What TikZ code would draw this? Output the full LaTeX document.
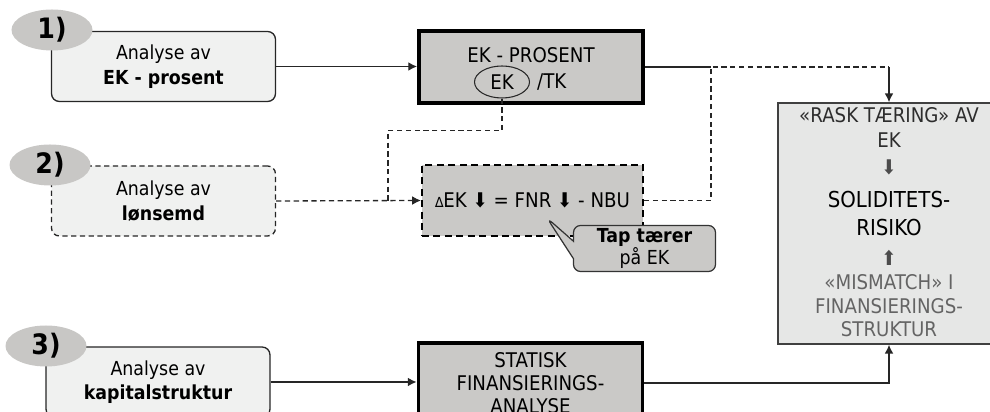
\documentclass[tikz,border=0pt]{standalone}
\usepackage{fontspec}
\setmainfont{DejaVu Sans}[FakeStretch=0.9]
\usetikzlibrary{shapes.geometric, shapes.callouts, arrows.meta, positioning, calc}
\definecolor{boxfill}{RGB}{240,241,240}
\definecolor{numfill}{RGB}{200,199,197}
\definecolor{keyfill}{RGB}{202,201,199}
\definecolor{riskfill}{RGB}{230,231,230}
\definecolor{riskdark}{RGB}{45,45,45}
\definecolor{riskgray}{RGB}{100,100,100}

\begin{document}
\begin{tikzpicture}[
    % Styles
    an node/.style={rectangle, draw=black!85, fill=boxfill, line width=0.75pt, align=center, font=\fontsize{11}{14}\selectfont, minimum width=4.48cm, minimum height=1.4cm, rounded corners=4.5pt},
    an dashed/.style={an node, dash pattern=on 3pt off 2pt},
    num node/.style={ellipse, fill=numfill, font=\fontsize{16}{18}\selectfont\bfseries, minimum width=1.62cm, minimum height=0.82cm, inner sep=0pt},
    key node/.style={rectangle, draw=black, fill=keyfill, line width=2.2pt, align=center, font=\fontsize{11.5}{13}\selectfont, minimum width=4.48cm, minimum height=1.44cm},
    delta node/.style={rectangle, draw=black, fill=keyfill, line width=1.2pt, dash pattern=on 4pt off 2.5pt, font=\fontsize{11.5}{14}\selectfont, minimum width=4.42cm, minimum height=1.42cm},
    tip node/.style={rectangle callout, draw=black!80, fill=keyfill, line width=0.7pt, rounded corners=4pt, align=center, font=\fontsize{11}{13}\selectfont, minimum width=2.84cm, minimum height=0.92cm, inner sep=1pt, callout pointer width=0.35cm},
    risk node/.style={rectangle, draw=black!75, fill=riskfill, line width=0.9pt, minimum width=4.44cm, minimum height=4.82cm},
    risk text/.style={align=center, font=\fontsize{11.5}{14}\selectfont, inner sep=0pt},
    line/.style={line width=0.75pt, draw=black!85},
    arrow/.style={-{Latex[length=5pt,width=5pt]}, line width=0.75pt, draw=black!85},
    dashed line/.style={line width=0.75pt, draw=black!85, dash pattern=on 3pt off 2pt},
    dashed arrow/.style={-{Latex[length=5pt,width=5pt]}, line width=0.75pt, draw=black!85, dash pattern=on 3pt off 2pt}
]
\useasboundingbox (0,0) rectangle (19.8,-8.24);
\clip (0,0) rectangle (19.8,-8.24);

% Analysis boxes (left)
\node[an node] (an1) at (3.27,-1.33) {Analyse av\\\textbf{EK - prosent}};
\node[an dashed] (an2) at (3.27,-4.02) {Analyse av\\\textbf{lønsemd}};
\node[an node] (an3) at (3.16,-7.64) {Analyse av\\\textbf{kapitalstruktur}};

\node[num node] (num1) at (1.04,-0.6) {1)};
\node[num node] (num2) at (1.0,-3.3) {2)};
\node[num node] (num3) at (0.92,-6.92) {3)};

% Key figure boxes (middle)
\node[key node] (ekp) at (10.62,-1.34) {};
\node[font=\fontsize{11.5}{13}\selectfont] (ektitle) at (10.62,-1.1) {EK - PROSENT};
\node[ellipse, draw=black!85, line width=0.6pt, font=\fontsize{11.5}{13}\selectfont, minimum width=1.1cm, minimum height=0.64cm, inner sep=0pt] (ekell) at (10.04,-1.64) {EK};
\node[font=\fontsize{11.5}{13}\selectfont, anchor=west] (tk) at (10.62,-1.64) {/TK};

\node[delta node] (delta) at (10.65,-4.01) {{\fontsize{8}{10}\selectfont ∆}EK ⬇ = FNR ⬇ - NBU};
\coordinate (tippt) at (10.94,-4.36);
\node[tip node, callout absolute pointer={(tippt)}] (tap) at (12.89,-4.97) {\textbf{Tap tærer}\\på EK};

\node[key node, minimum height=1.6cm] (stat) at (10.61,-7.66) {STATISK\\FINANSIERINGS-\\ANALYSE};

% Risk box (right)
\node[risk node] (risk) at (17.78,-4.47) {};
\node[risk text, text=riskdark] (risktop) at (17.78,-2.55) {«RASK TÆRING» AV\\EK};
\node[risk text, text=black!70] (riskdown) at (17.78,-3.34) {⬇};
\node[risk text, font=\fontsize{12.5}{16.4}\selectfont] (riskmid) at (17.78,-4.27) {SOLIDITETS-\\RISIKO};
\node[risk text, text=black!70] (riskup) at (17.78,-5.16) {⬆};
\node[risk text, text=riskgray, font=\fontsize{11.5}{13.3}\selectfont] (riskbot) at (17.78,-6.12) {«MISMATCH» I\\FINANSIERINGS-\\STRUKTUR};

% Connections
\coordinate (jn) at (14.22,-1.34);
\coordinate (jr) at (17.78,-1.34);
\coordinate (mid) at (7.76,-4.02);

\draw[arrow] (an1.east) -- (an1.east -| ekp.west);
\draw[line] (ekp.east) -- (jn);
\draw[dashed line] (delta.east) -| (jn) -- (jr);
\draw[arrow] (jr) -- (risk.north);

\draw[dashed arrow] (an2.east) -- (delta.west);
\draw[dashed line] (ekell.south) -- ++(0,-0.64) -| (mid);

\draw[arrow] (an3.east) -- (an3.east -| stat.west);
\draw[arrow] (stat.east) -| (risk.south);

\end{tikzpicture}
\end{document}
